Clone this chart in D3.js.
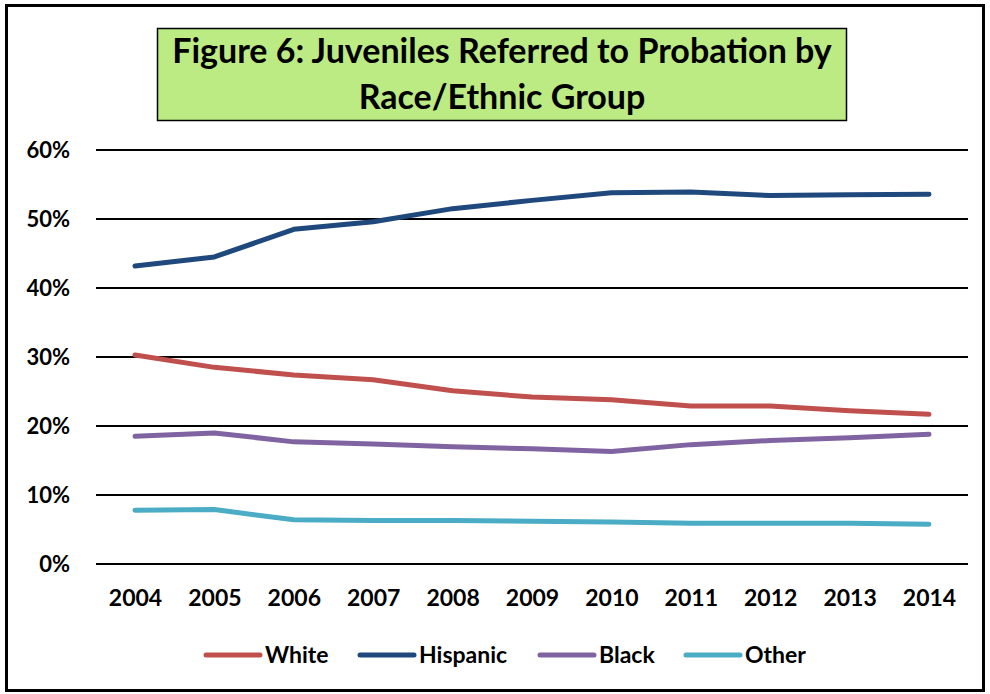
<!DOCTYPE html>
<html>
<head>
<meta charset="utf-8">
<script src="https://cdn.jsdelivr.net/npm/d3@7"></script>
<style>
  html, body { margin: 0; padding: 0; background: #fff; }
  svg text { font-family: Lato, "Liberation Sans", sans-serif; font-weight: 700; fill: #000; }
</style>
</head>
<body>
<svg id="chart" width="990" height="694"></svg>
<script>
// Share of juveniles referred to probation, by race/ethnic group
const years = ["2004","2005","2006","2007","2008","2009","2010","2011","2012","2013","2014"];
const white    = [30.3, 28.5, 27.4, 26.7, 25.1, 24.2, 23.8, 22.9, 22.9, 22.2, 21.7];
const hispanic = [43.2, 44.5, 48.5, 49.6, 51.5, 52.7, 53.8, 53.9, 53.4, 53.5, 53.6];
const black    = [18.5, 19.0, 17.7, 17.4, 17.0, 16.7, 16.3, 17.3, 17.9, 18.3, 18.8];
const other    = [7.8, 7.9, 6.4, 6.3, 6.3, 6.2, 6.1, 5.9, 5.9, 5.9, 5.75];
const yTicks   = [0, 10, 20, 30, 40, 50, 60];
const seriesNames  = ["White", "Hispanic", "Black", "Other"];
const seriesColors = ["#C0504D", "#1F497D", "#8064A2", "#4BACC6"];
const titleLines = ["Figure 6: Juveniles Referred to Probation by", "Race/Ethnic Group"];

const series = [white, hispanic, black, other].map((v, i) => ({
  name: seriesNames[i], color: seriesColors[i], values: v
}));

const svg = d3.select("#chart");

// outer frame
svg.append("rect")
  .attr("x", 6.5).attr("y", 5.5).attr("width", 977).attr("height", 685)
  .attr("fill", "#fff").attr("stroke", "#000").attr("stroke-width", 3);

// title box
svg.append("rect")
  .attr("x", 157.5).attr("y", 28.5).attr("width", 689).attr("height", 92)
  .attr("fill", "#BBEB82").attr("stroke", "#000").attr("stroke-width", 1.5);
svg.append("g").selectAll("text").data(titleLines).join("text")
  .attr("x", 502).attr("y", (d, i) => 63 + i * 46)
  .attr("text-anchor", "middle")
  .style("font-size", "34px")
  .text(d => d);

// scales
const x = d3.scalePoint().domain(years).range([135, 929]);
const y = d3.scaleLinear().domain([0, 60]).range([564, 150]);

// horizontal gridlines
svg.append("g").selectAll("line").data(yTicks).join("line")
  .attr("x1", 96).attr("x2", 968)
  .attr("y1", d => y(d)).attr("y2", d => y(d))
  .attr("stroke", "#000").attr("stroke-width", 2);

// y axis labels
const yAxis = d3.axisLeft(y).tickValues(yTicks).tickFormat(d => d + "%").tickSize(0).tickPadding(0);
svg.append("g").attr("transform", "translate(70,0)").call(yAxis)
  .call(g => g.select(".domain").remove())
  .call(g => g.selectAll("text").attr("font-family", null).attr("font-size", null)
    .style("font-size", "22px").attr("dy", "0.36em"));

// x axis labels
const xAxis = d3.axisBottom(x).tickSize(0).tickPadding(0);
svg.append("g").attr("transform", "translate(0,590)").call(xAxis)
  .call(g => g.select(".domain").remove())
  .call(g => g.selectAll("text").attr("font-family", null).attr("font-size", null)
    .style("font-size", "23px").attr("dy", "0.71em"));

// series lines
const line = d3.line()
  .x((d, i) => x(years[i]))
  .y(d => y(d));
svg.append("g").selectAll("path").data(series).join("path")
  .attr("d", d => line(d.values))
  .attr("fill", "none")
  .attr("stroke", d => d.color)
  .attr("stroke-width", 5)
  .attr("stroke-linecap", "round")
  .attr("stroke-linejoin", "round");

// legend
const legendX = [206, 360, 540, 686];
const lg = svg.append("g").selectAll("g").data(series).join("g")
  .attr("transform", (d, i) => `translate(${legendX[i]},655)`);
lg.append("line")
  .attr("x1", 0).attr("x2", 54).attr("y1", 0).attr("y2", 0)
  .attr("stroke", d => d.color).attr("stroke-width", 5).attr("stroke-linecap", "round");
lg.append("text")
  .attr("x", 59).attr("y", 0).attr("dy", "0.36em")
  .style("font-size", "23px")
  .text(d => d.name);
</script>
</body>
</html>
